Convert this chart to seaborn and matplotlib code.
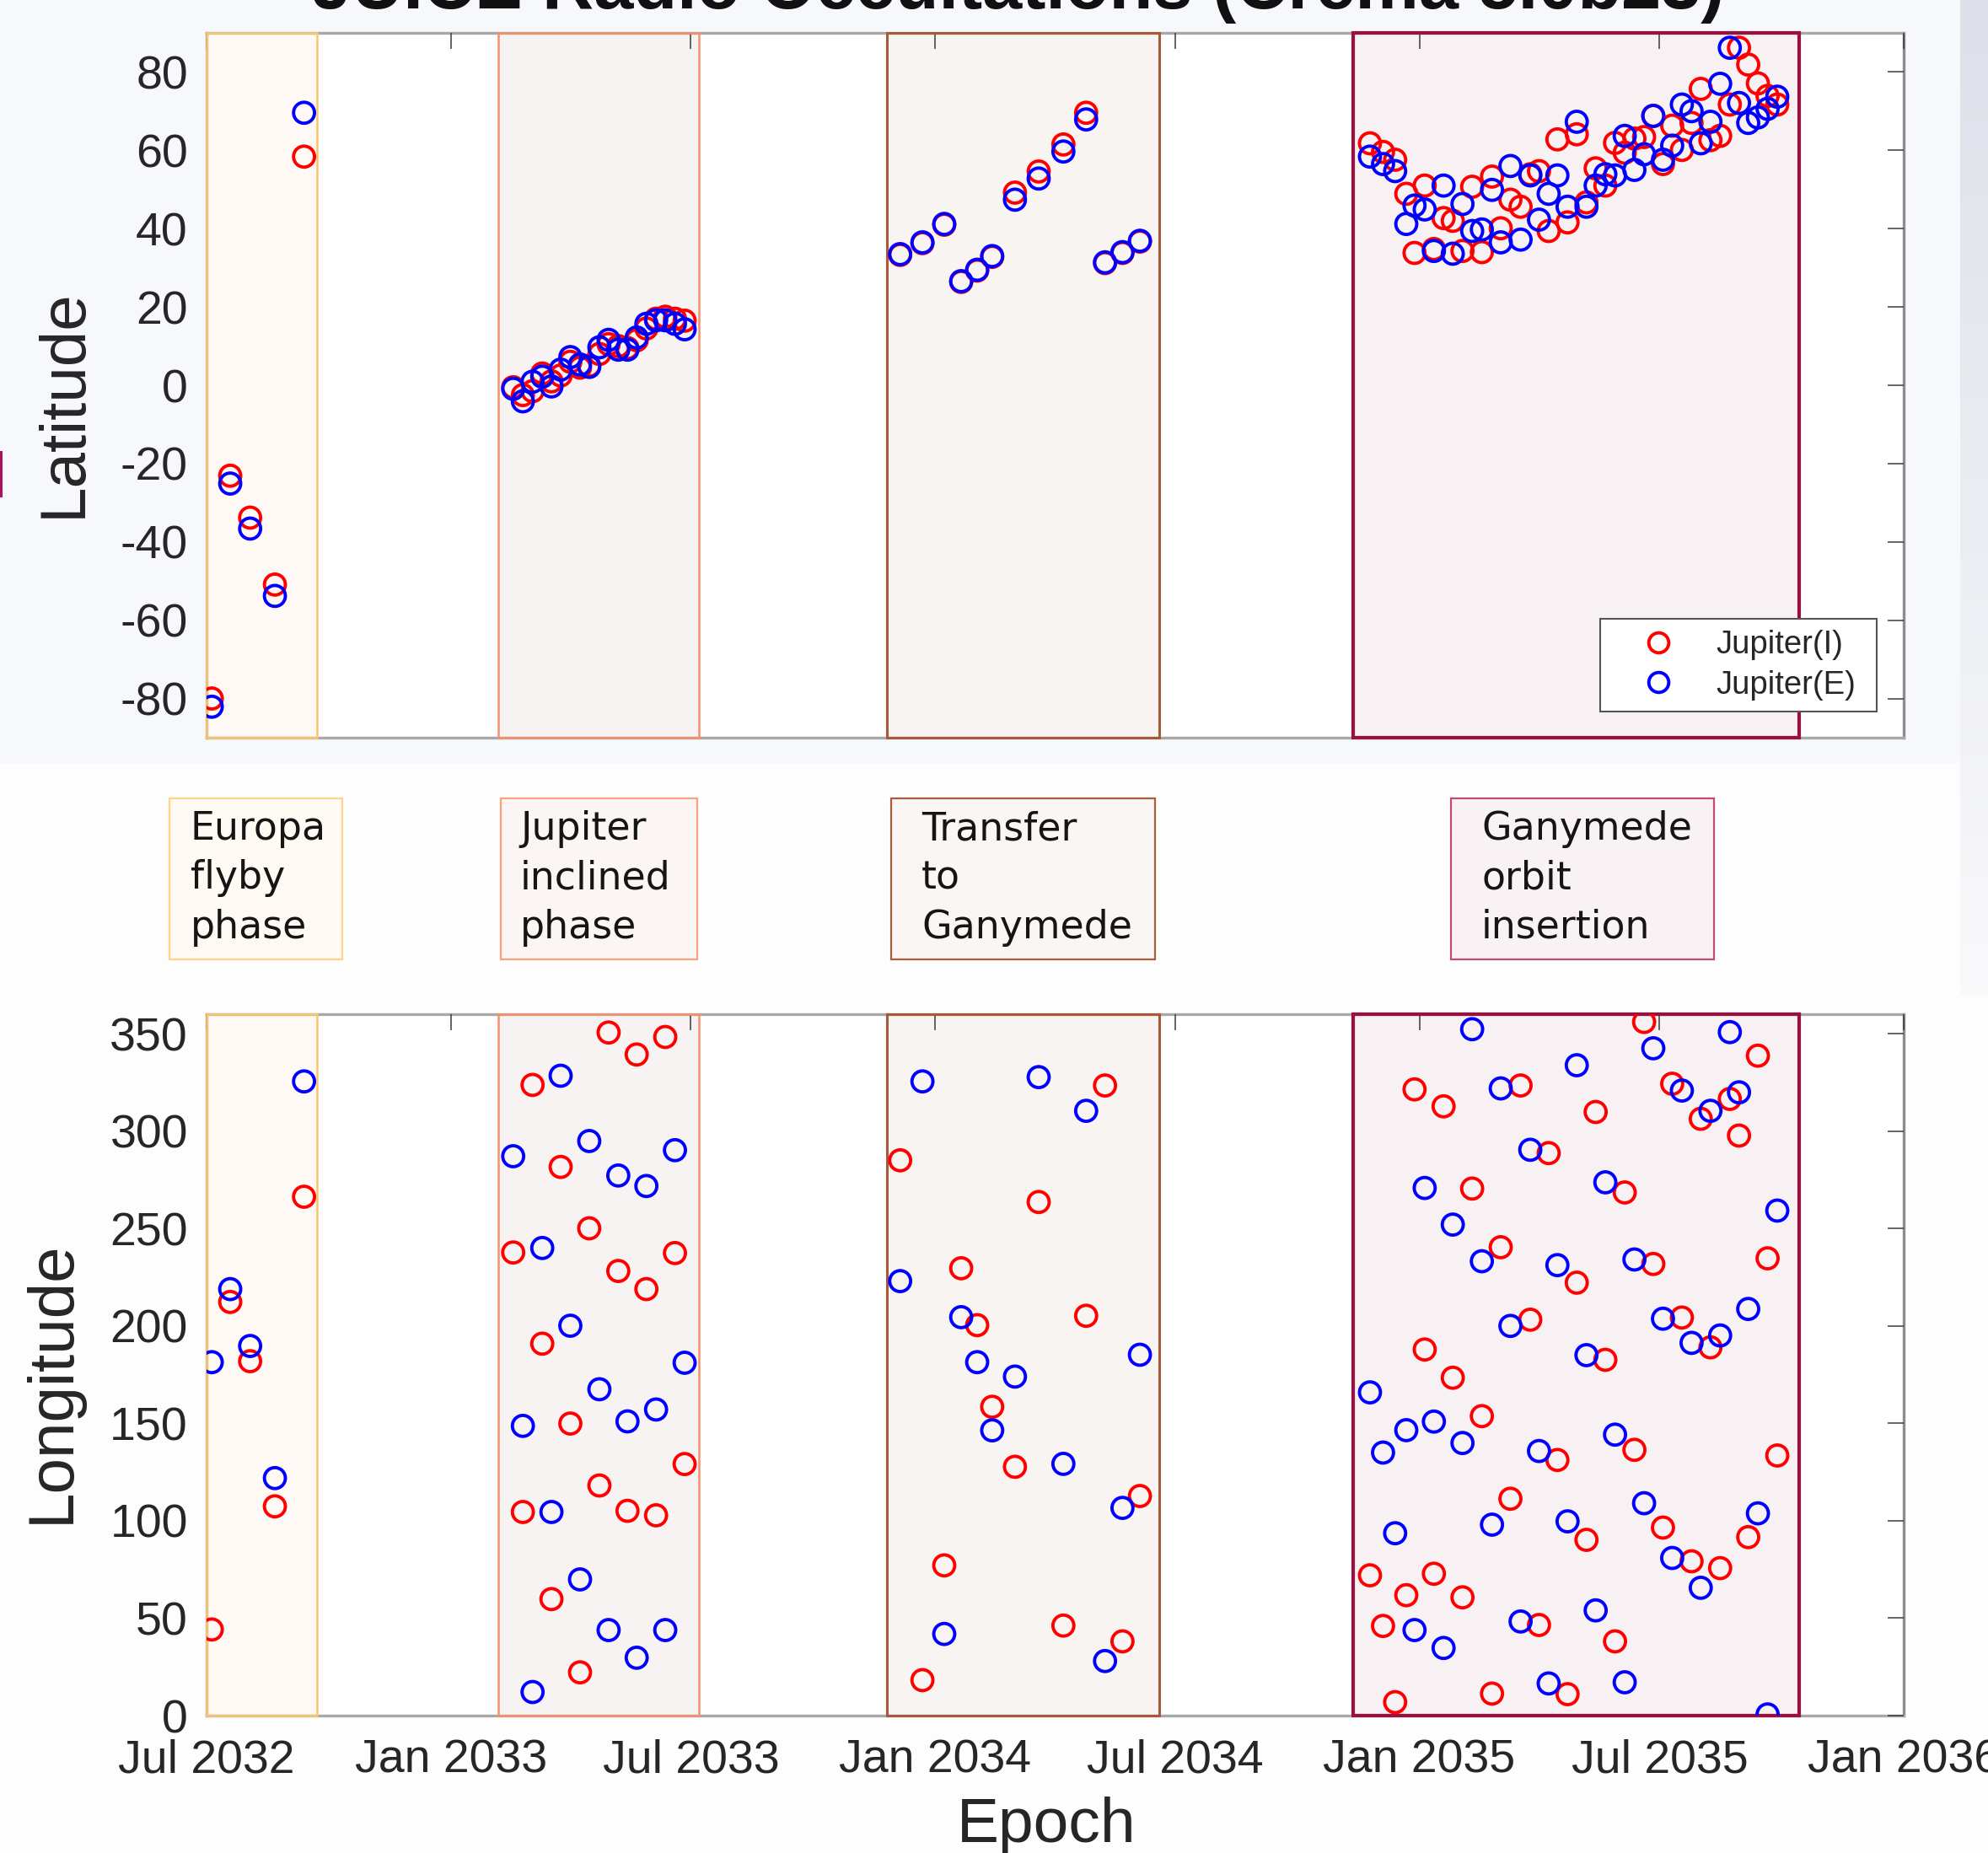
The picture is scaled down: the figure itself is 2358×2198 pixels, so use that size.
import numpy as np
import pandas as pd
import seaborn as sns
import matplotlib.pyplot as plt
import matplotlib.dates as mdates
from matplotlib.patches import Rectangle
from matplotlib.lines import Line2D

# occultation epochs (decimal years) and lat/lon of ingress (I) and egress (E)
europa_epoch = [2032.508, 2032.546, 2032.587, 2032.638, 2032.698]
europa_lat_i = [-80.0, -23.1, -33.8, -50.9, 58.4]
europa_lat_e = [-82.1, -25.1, -36.6, -53.8, 69.6]
europa_lon_i = [44.2, 212.3, 181.9, 107.4, 266.3]
europa_lon_e = [181.4, 218.9, 189.7, 121.9, 325.5]

incl_epoch = [2033.129, 2033.149, 2033.169, 2033.189, 2033.208, 2033.227, 2033.247,
              2033.267, 2033.286, 2033.307, 2033.326, 2033.346, 2033.365, 2033.384,
              2033.404, 2033.424, 2033.443, 2033.463, 2033.483]
incl_lat_i = [-0.5, -2.5, -1.5, 3.0, 1.0, 2.5, 6.0, 4.5, 5.0, 8.0, 10.5, 10.0, 9.5,
              11.5, 14.5, 17.0, 17.5, 17.0, 16.5]
incl_lat_e = [-0.9, -4.1, 0.9, 2.2, -0.3, 4.0, 7.2, 5.3, 4.7, 9.7, 11.6, 9.1, 9.1,
              12.2, 15.7, 16.6, 16.6, 15.7, 14.3]
incl_lon_i = [237.7, 104.5, 323.7, 190.9, 59.8, 281.6, 149.9, 22.2, 250.1, 118.1,
              350.6, 228.2, 105.1, 339.3, 218.9, 102.8, 348.3, 237.4, 129.1]
incl_lon_e = [287.1, 148.7, 12.1, 240.0, 104.5, 328.4, 200.1, 69.9, 294.9, 167.5,
              43.9, 277.2, 151.0, 29.7, 271.8, 157.1, 43.9, 290.2, 181.1]

trans_epoch = [2033.928, 2033.974, 2034.019, 2034.054, 2034.087, 2034.118, 2034.165,
               2034.214, 2034.265, 2034.312, 2034.351, 2034.387, 2034.423]
trans_lat_i = [33.3, 36.3, 41.0, 26.4, 29.3, 32.8, 49.2, 54.6, 61.5, 69.6, 31.2, 33.8, 36.7]
trans_lat_e = [33.5, 36.5, 41.2, 26.6, 29.5, 33.0, 47.4, 52.8, 59.7, 67.9, 31.4, 34.0, 36.9]
trans_lon_i = [285.0, 18.2, 77.1, 229.6, 200.4, 158.5, 127.7, 263.6, 46.2, 205.2, 323.4, 38.1, 112.7]
trans_lon_e = [223.0, 325.5, 41.9, 204.5, 181.4, 146.4, 174.0, 327.7, 129.2, 310.4, 28.0, 106.6, 185.2]

goi_epoch = [2034.898, 2034.925, 2034.950, 2034.973, 2034.990, 2035.011, 2035.030,
             2035.050, 2035.069, 2035.089, 2035.109, 2035.129, 2035.150, 2035.168,
             2035.188, 2035.209, 2035.229, 2035.247, 2035.267, 2035.285, 2035.306,
             2035.325, 2035.345, 2035.364, 2035.384, 2035.404, 2035.424, 2035.444,
             2035.464, 2035.483, 2035.503, 2035.522, 2035.542, 2035.562, 2035.581,
             2035.601, 2035.621, 2035.641, 2035.660, 2035.679, 2035.699, 2035.719, 2035.739]
goi_lat_i = [61.8, 59.6, 57.6, 48.9, 33.8, 51.0, 34.8, 42.7, 42.0, 34.3, 50.7, 34.0, 53.3,
             40.1, 47.4, 45.6, 53.9, 54.7, 39.4, 62.8, 41.6, 64.1, 46.7, 55.4, 51.0, 61.9,
             59.4, 63.0, 63.4, 68.8, 56.5, 66.3, 60.1, 67.0, 75.7, 62.6, 63.7, 71.7, 86.2,
             81.9, 77.1, 73.9, 71.7]
goi_lat_e = [58.4, 56.5, 54.7, 41.2, 45.9, 44.9, 34.3, 51.0, 33.6, 46.3, 39.4, 39.8, 49.9,
             36.5, 56.0, 37.2, 53.6, 42.3, 48.9, 53.6, 45.6, 67.3, 45.6, 51.0, 53.9, 53.6,
             63.7, 55.0, 59.0, 68.8, 57.6, 61.2, 71.7, 70.0, 61.8, 67.3, 77.0, 86.2, 72.1,
             67.0, 68.4, 70.6, 73.7]
goi_lon_i = [72.0, 46.0, 6.9, 61.8, 321.4, 187.9, 72.8, 312.7, 173.4, 60.7, 270.5, 153.7,
             11.3, 240.4, 111.3, 323.4, 203.2, 46.5, 288.7, 131.2, 11.0, 222.2, 90.2, 309.8,
             182.6, 38.1, 268.5, 136.4, 356.0, 231.8, 96.5, 324.3, 204.3, 79.2, 306.3, 189.0,
             75.7, 316.5, 297.7, 91.6, 338.7, 234.7, 133.5]
goi_lon_e = [165.9, 135.0, 93.6, 146.5, 43.9, 270.8, 150.9, 34.7, 252.0, 139.9, 352.3, 233.2,
             98.0, 321.9, 200.0, 48.3, 290.4, 135.8, 16.5, 231.2, 99.7, 333.8, 185.0, 54.0,
             273.7, 144.2, 17.1, 234.1, 109.0, 342.5, 203.7, 80.9, 320.8, 191.3, 65.6, 310.4,
             195.1, 350.8, 319.9, 208.7, 103.8, 0.6, 259.2]

# mission phases
phase_labels = ["Europa\nflyby\nphase", "Jupiter\ninclined\nphase",
                "Transfer\nto\nGanymede", "Ganymede\norbit\ninsertion"]
phase_start = ["2032-07-01", "2033-02-06", "2033-11-26", "2034-11-12"]
phase_end = ["2032-09-22", "2033-07-07", "2034-06-19", "2035-10-14"]
phase_edge = ["#fbc76a", "#f7906a", "#a65a3a", "#9c0f3f"]
phase_fill = ["#fef9f4", "#f8f3f3", "#f8f4f2", "#f7f1f4"]
phase_lw = [1.8, 1.8, 2.2, 3.0]
box_edge = ["#fdd48a", "#f9a37e", "#a65e3c", "#c24a73"]
box_fill = ["#fef9f2", "#fbf5f3", "#faf6f3", "#f8f2f5"]

tick_dates = ["2032-07-01", "2033-01-01", "2033-07-01", "2034-01-01",
              "2034-07-01", "2035-01-01", "2035-07-01", "2036-01-01"]
tick_labels = ["Jul 2032", "Jan 2033", "Jul 2033", "Jan 2034",
               "Jul 2034", "Jan 2035", "Jul 2035", "Jan 2036"]

W, H = 2358, 2198


def to_date(years):
    out = []
    for y in years:
        yr = int(y)
        t0 = pd.Timestamp(year=yr, month=1, day=1)
        t1 = pd.Timestamp(year=yr + 1, month=1, day=1)
        out.append(t0 + (y - yr) * (t1 - t0))
    return out


epochs = to_date(europa_epoch + incl_epoch + trans_epoch + goi_epoch)
lat_i = europa_lat_i + incl_lat_i + trans_lat_i + goi_lat_i
lat_e = europa_lat_e + incl_lat_e + trans_lat_e + goi_lat_e
lon_i = europa_lon_i + incl_lon_i + trans_lon_i + goi_lon_i
lon_e = europa_lon_e + incl_lon_e + trans_lon_e + goi_lon_e

df = pd.concat([
    pd.DataFrame({"epoch": epochs, "lat": lat_i, "lon": lon_i, "series": "Jupiter(I)"}),
    pd.DataFrame({"epoch": epochs, "lat": lat_e, "lon": lon_e, "series": "Jupiter(E)"}),
], ignore_index=True)
palette = {"Jupiter(I)": "#ff0000", "Jupiter(E)": "#0000ff"}

sns.set_theme(style="white")
plt.rcParams["font.family"] = ["Liberation Sans", "DejaVu Sans"]
plt.rcParams["axes.unicode_minus"] = False

fig = plt.figure(figsize=(W / 100, H / 100), dpi=100, facecolor="#fdfdfd")

# page background like the screenshot
fig.add_artist(Rectangle((0, 1 - 905 / H), 1, 905 / H, transform=fig.transFigure,
                         facecolor="#f7f8fb", edgecolor="none", zorder=-5))
grad = fig.add_axes([2325 / W, 1 - 1180 / H, 1 - 2325 / W, 1180 / H], zorder=-4)
grad.imshow(np.linspace(0, 1, 100).reshape(-1, 1), aspect="auto",
            cmap=sns.blend_palette(["#dde0e9", "#f9f9fb"], as_cmap=True))
grad.axis("off")
fig.add_artist(Rectangle((0, 1 - 590 / H), 3 / W, 55 / H, transform=fig.transFigure,
                         facecolor="#b0105a", edgecolor="none"))

ax1 = fig.add_axes([245 / W, 1 - 875 / H, 2013 / W, 836 / H])
ax2 = fig.add_axes([245 / W, 1 - 2035 / H, 2013 / W, 832 / H])

for ax, col in [(ax1, "lat"), (ax2, "lon")]:
    ax.set_facecolor("white")
    for s, e, ec, fc, lw in zip(phase_start, phase_end, phase_edge, phase_fill, phase_lw):
        x0 = mdates.date2num(pd.Timestamp(s))
        x1 = mdates.date2num(pd.Timestamp(e))
        ax.axvspan(x0, x1, facecolor=fc, edgecolor="none", zorder=0.5)
        ax.axvspan(x0, x1, facecolor="none", edgecolor=ec, lw=lw, zorder=2.7, clip_on=False)

    sns.scatterplot(data=df, x="epoch", y=col, hue="series", palette=palette,
                    s=320, linewidth=2.8, legend=False, ax=ax, zorder=4)
    coll = ax.collections[-1]
    fcs = coll.get_facecolors()
    coll.set_edgecolors(fcs)
    coll.set_facecolors("none")

    ax.set_xlim(mdates.date2num(pd.Timestamp("2032-07-01")),
                mdates.date2num(pd.Timestamp("2036-01-01")))
    ax.set_xticks([mdates.date2num(pd.Timestamp(d)) for d in tick_dates])
    ax.set_axisbelow(False)
    ax.tick_params(direction="in", top=True, right=True, length=14, width=1.1,
                   color="#3a3a3a", labelsize=40, labelcolor="#262626")
    ax.tick_params(axis="y", pad=16)
    ax.tick_params(axis="x", pad=20)
    for sp in ax.spines.values():
        sp.set_color("#a8a8a8")
        sp.set_linewidth(2.4)
    ax.spines["right"].set_color("#8c8c8c")
    ax.set_xlabel("")

ax1.set_ylim(-90, 90)
ax1.set_yticks(np.arange(-80, 81, 20))
ax1.tick_params(labelbottom=False)
ax1.set_ylabel("Latitude", fontsize=55, color="#262626")
ax1.yaxis.set_label_coords(-0.066, 0.475)

ax2.set_ylim(0, 360)
ax2.set_yticks(np.arange(0, 351, 50))
ax2.set_xticklabels(tick_labels)
ax2.set_ylabel("Longitude", fontsize=55, color="#262626")
ax2.yaxis.set_label_coords(-0.073, 0.476)
ax2.set_xlabel("Epoch", fontsize=54, color="#262626")
ax2.xaxis.set_label_coords(0.495, -0.157)
ax2.xaxis.label.set_va("center")

# legend: frame drawn separately so its padding matches the reference
ax1.add_patch(Rectangle((0.8212, 0.0371), 0.1629, 0.1316, transform=ax1.transAxes,
                        facecolor="white", edgecolor="#555555", lw=1.5, zorder=9,
                        clip_on=False))
handles = [Line2D([], [], ls="none", marker="o", ms=17, mfc="none", mew=2.8,
                  mec=palette[k], label=k) for k in palette]
leg = ax1.legend(handles=handles, loc="center left", bbox_to_anchor=(0.8363, 0.1029),
                 borderaxespad=0, borderpad=0, fontsize=27.5, frameon=False,
                 labelspacing=0.3, handlelength=2.0, handletextpad=0.79)
leg.set_zorder(10)

# phase boxes between the panels
box_x = [(201, 406), (594, 827), (1057, 1370), (1721, 2033)]
box_pad = [25, 23, 36, 36]
for (x0, x1), pad, lab, ec, fc in zip(box_x, box_pad, phase_labels, box_edge, box_fill):
    fig.add_artist(Rectangle((x0 / W, 1 - 1138 / H), (x1 - x0) / W, 191 / H,
                             transform=fig.transFigure, facecolor=fc, edgecolor=ec, lw=1.6))
    fig.text((x0 + pad) / W, 1 - 1042 / H, lab, ha="left", va="center", fontsize=33,
             family="DejaVu Sans", color="#151515", linespacing=1.38)

fig.text(1208 / W, 1 - 10 / H, "JUICE Radio Occultations (Crema 5.0b23)", ha="center",
         va="baseline", fontsize=61, fontweight="bold", color="#111111")

fig.savefig("out.png", dpi=100, facecolor=fig.get_facecolor())
